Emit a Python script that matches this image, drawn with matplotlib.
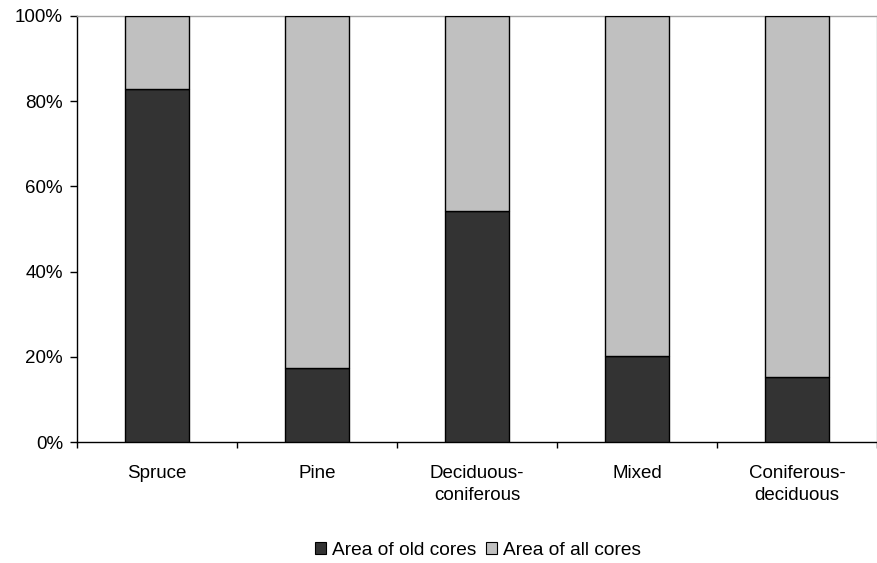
import matplotlib
matplotlib.use("Agg")
import matplotlib.pyplot as plt
import numpy as np
from matplotlib.ticker import PercentFormatter, FixedLocator, NullFormatter
from matplotlib.patches import Patch

plt.rcParams['font.family'] = ['Liberation Sans', 'DejaVu Sans']

categories = ["Spruce", "Pine", "Deciduous-\nconiferous", "Mixed", "Coniferous-\ndeciduous"]
old_cores = [0.828, 0.174, 0.543, 0.203, 0.153]
all_cores = [1 - v for v in old_cores]
series_names = ["Area of old cores", "Area of all cores"]
colors = ["#333333", "#C0C0C0"]

FS = 13.5

fig = plt.figure(figsize=(8.77, 5.63), dpi=100)
ax = fig.add_axes([0.0878, 0.2144, 0.9122, 0.7576])

x = np.arange(len(categories))
ax.bar(x, old_cores, width=0.4, color=colors[0], edgecolor="black", linewidth=1.0, zorder=3)
ax.bar(x, all_cores, width=0.4, bottom=old_cores, color=colors[1], edgecolor="black", linewidth=1.0, zorder=3)

ax.set_xlim(-0.5, len(categories) - 0.5)
ax.set_ylim(0, 1.0)
ax.yaxis.set_major_formatter(PercentFormatter(1.0, decimals=0))
ax.set_yticks([0, 0.2, 0.4, 0.6, 0.8, 1.0])

ax.set_xticks(x)
ax.set_xticklabels(categories, fontsize=FS, linespacing=1.4)
ax.tick_params(axis='x', which='major', length=0, pad=16.5)
ax.xaxis.set_minor_locator(FixedLocator(np.arange(-0.5, len(categories), 1.0)))
ax.xaxis.set_minor_formatter(NullFormatter())
ax.tick_params(axis='x', which='minor', length=4.5, width=1, color='black', direction='out')
ax.tick_params(axis='y', length=5, width=1, pad=5, labelsize=FS, direction='out')

for s in ['left', 'bottom']:
    ax.spines[s].set_color('black')
    ax.spines[s].set_linewidth(1.0)
for s in ['top', 'right']:
    ax.spines[s].set_color('#A0A0A0')
    ax.spines[s].set_linewidth(1.0)

handles = [Patch(facecolor=colors[0], edgecolor='black', linewidth=0.8, label=series_names[0]),
           Patch(facecolor=colors[1], edgecolor='black', linewidth=0.8, label=series_names[1])]
fig.legend(handles=handles, loc='center', bbox_to_anchor=(0.545, 0.022), ncol=2, frameon=False,
           fontsize=13.8, handlelength=0.6, handleheight=0.6, handletextpad=0.3, columnspacing=0.5)

fig.savefig("out.png", dpi=100)
